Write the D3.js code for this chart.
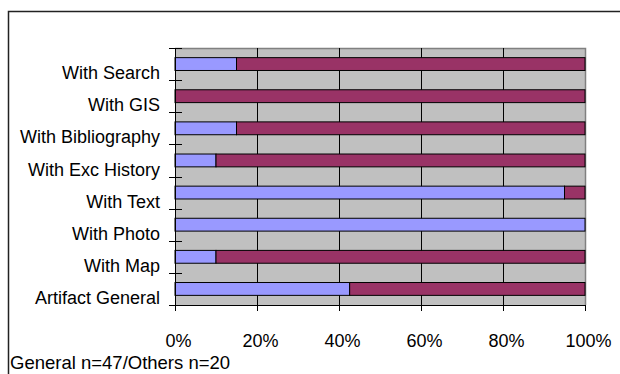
<!DOCTYPE html>
<html>
<head>
<meta charset="utf-8">
<script src="https://cdn.jsdelivr.net/npm/d3@7"></script>
<style>
  html, body { margin: 0; padding: 0; background: #fff; }
  svg { display: block; }
  text { font-family: "Liberation Sans", Arial, sans-serif; fill: #000; }
</style>
</head>
<body>
<svg id="chart" width="620" height="374"></svg>
<script>
// Categories, listed top to bottom as they appear on the chart
const categories = [
  "With Search",
  "With GIS",
  "With Bibliography",
  "With Exc History",
  "With Text",
  "With Photo",
  "With Map",
  "Artifact General"
];
// Share of each category (percent) for the two stacked series
const seriesYes = [15, 0, 15, 10, 95, 100, 10, 42.6];
const seriesNo  = [85, 100, 85, 90, 5, 0, 90, 57.4];
const seriesColors = ["#9999FF", "#993366"];
const xTicks = [0, 0.2, 0.4, 0.6, 0.8, 1];
const footnote = "General n=47/Others n=20";

const svg = d3.select("#chart");
const plot = { left: 175, right: 585, top: 48, bottom: 305 };
const fontSize = 18;

// Outer chart frame (extends past the right and bottom edges of the view)
svg.append("rect")
  .attr("x", 8.5).attr("y", 11.5)
  .attr("width", 640).attr("height", 400)
  .attr("fill", "none").attr("stroke", "#222").attr("stroke-width", 1.5);

const x = d3.scaleLinear().domain([0, 1]).range([plot.left, plot.right]);
const y = d3.scaleBand().domain(categories)
  .range([plot.top, plot.bottom])
  .paddingInner(0.6).paddingOuter(0.3);

// Plot background
svg.append("rect")
  .attr("x", plot.left).attr("y", plot.top)
  .attr("width", plot.right - plot.left).attr("height", plot.bottom - plot.top)
  .attr("fill", "#C0C0C0");

// Plot border on top and right
svg.append("path")
  .attr("d", `M${plot.left},${plot.top + 0.5}H${plot.right + 0.5}V${plot.bottom}`)
  .attr("fill", "none").attr("stroke", "#808080").attr("stroke-width", 1.5);

// Vertical gridlines
svg.append("g").selectAll("line")
  .data(xTicks.filter(t => t > 0 && t < 1))
  .join("line")
  .attr("x1", d => Math.round(x(d)) + 0.5).attr("x2", d => Math.round(x(d)) + 0.5)
  .attr("y1", plot.top).attr("y2", plot.bottom)
  .attr("stroke", "#000").attr("stroke-width", 1);

// Stacked bars
const rows = categories.map((c, i) => ({ cat: c, yes: seriesYes[i] / 100, no: seriesNo[i] / 100 }));
const stack = d3.stack().keys(["yes", "no"])(rows);
svg.append("g").selectAll("g")
  .data(stack)
  .join("g")
  .attr("fill", (d, i) => seriesColors[i])
  .selectAll("rect")
  .data(d => d.filter(p => p[1] - p[0] > 0))
  .join("rect")
  .attr("x", d => x(d[0]))
  .attr("y", d => y(d.data.cat))
  .attr("width", d => x(d[1]) - x(d[0]))
  .attr("height", y.bandwidth())
  .attr("stroke", "#000").attr("stroke-width", 1);

// X axis
const xAxis = d3.axisBottom(x)
  .tickValues(xTicks)
  .tickFormat(d3.format(".0%"))
  .tickSize(6)
  .tickPadding(23);
const gx = svg.append("g").attr("transform", `translate(0,${plot.bottom})`).call(xAxis);
gx.select(".domain").attr("stroke", "#000").attr("d", `M${plot.left},0.5H${plot.right}`);
gx.selectAll(".tick line").attr("stroke", "#000");
gx.selectAll(".tick text")
  .attr("font-size", fontSize).attr("dx", 3)
  .style("font-family", "Liberation Sans, Arial, sans-serif");

// Y axis line and crossing tick marks at band boundaries
svg.append("line")
  .attr("x1", plot.left + 0.5).attr("x2", plot.left + 0.5)
  .attr("y1", plot.top).attr("y2", plot.bottom + 6)
  .attr("stroke", "#000");
const step = y.step();
const bounds = d3.range(categories.length + 1).map(i => plot.top + i * step);
svg.append("g").selectAll("line")
  .data(bounds)
  .join("line")
  .attr("x1", plot.left - 6).attr("x2", plot.left + 7)
  .attr("y1", d => Math.round(d) + 0.5).attr("y2", d => Math.round(d) + 0.5)
  .attr("stroke", "#000");

// Category labels
svg.append("g").selectAll("text")
  .data(categories)
  .join("text")
  .attr("x", plot.left - 15)
  .attr("y", d => y(d) - y.step() * y.paddingInner() / 2 + step - 1)
  .attr("text-anchor", "end")
  .attr("font-size", fontSize)
  .text(d => d);

// Sample size note
svg.append("text")
  .attr("x", 10).attr("y", 369)
  .attr("font-size", 18.5)
  .text(footnote);
</script>
</body>
</html>
